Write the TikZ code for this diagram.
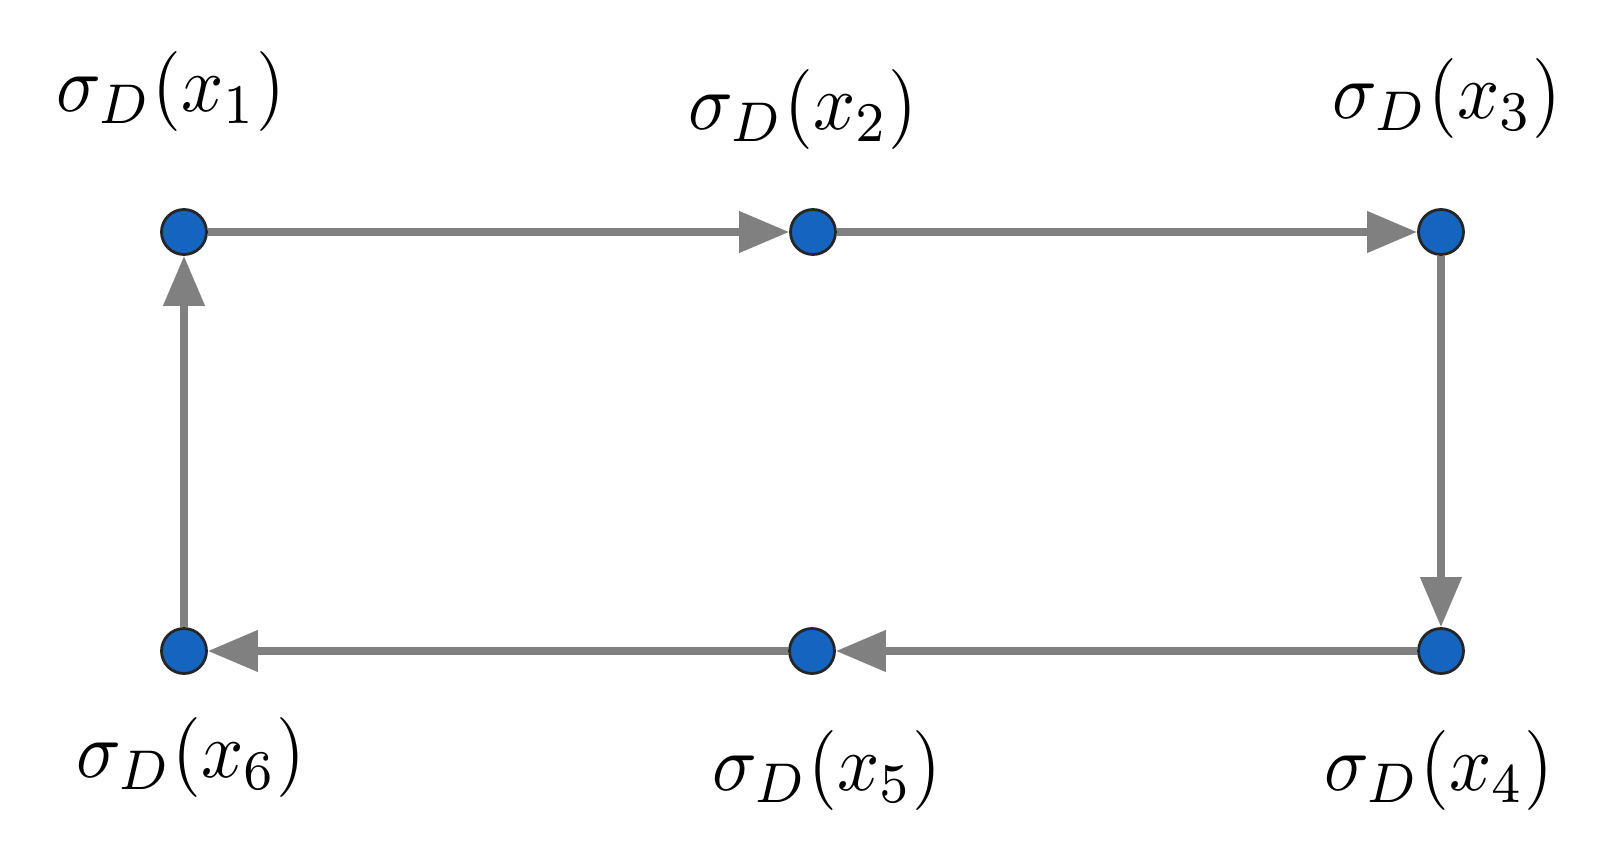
\documentclass[tikz,border=0pt]{standalone}
\usetikzlibrary{arrows.meta}
\definecolor{nodeblue}{RGB}{21,101,192}
\definecolor{edgegray}{RGB}{128,128,128}
\tikzset{
  vert/.style={circle, fill=nodeblue, draw=black!85, line width=1.4pt, minimum size=22.5pt, inner sep=0pt},
  lab/.style={inner sep=0pt, xscale=3.7, yscale=4.0},
  edge/.style={draw=edgegray, line width=3.8pt, -{Triangle[length=25pt,width=20pt]}}
}
\begin{document}
\begin{tikzpicture}[x=0.5pt,y=-0.5pt]
\useasboundingbox (0,0) rectangle (1624,856);
\node[vert] (n1) at (184,232) {};
\node[vert] (n2) at (813,232) {};
\node[vert] (n3) at (1441,232) {};
\node[vert] (n4) at (1441,651) {};
\node[vert] (n5) at (812,651) {};
\node[vert] (n6) at (184,651) {};
\node[lab] (l1) at (171,92) {$\sigma_D(x_1)$};
\node[lab] (l2) at (803,110) {$\sigma_D(x_2)$};
\node[lab] (l3) at (1447,99) {$\sigma_D(x_3)$};
\node[lab] (l4) at (1439,770) {$\sigma_D(x_4)$};
\node[lab] (l5) at (827,770) {$\sigma_D(x_5)$};
\node[lab] (l6) at (191,757) {$\sigma_D(x_6)$};
\draw[edge] (n1) -- (n2);
\draw[edge] (n2) -- (n3);
\draw[edge] (n3) -- (n4);
\draw[edge] (n4) -- (n5);
\draw[edge] (n5) -- (n6);
\draw[edge] (n6) -- (n1);
\end{tikzpicture}
\end{document}
